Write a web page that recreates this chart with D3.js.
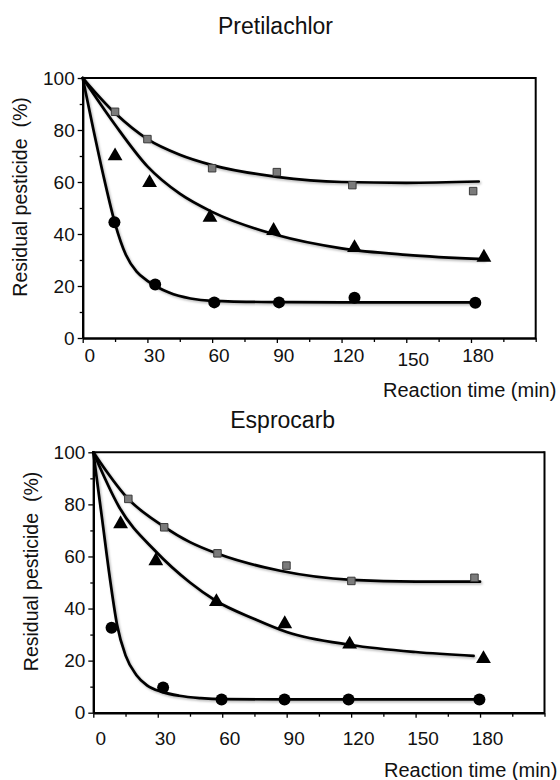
<!DOCTYPE html>
<html>
<head>
<meta charset="utf-8">
<script src="https://cdn.jsdelivr.net/npm/d3@7"></script>
<style>
   body { margin: 0; background: #fff; }
   svg text { font-family: "Liberation Sans", Arial, Helvetica, sans-serif; fill: #111; }
</style>
</head>
<body>
<div id="chart"></div>
<script>
// Tick values shared by both panels
var xTicks = [0, 30, 60, 90, 120, 150, 180];
var xMinorTicks = [15, 45, 75, 105, 135, 165, 195, 210];
var yTicks = [0, 20, 40, 60, 80, 100];
var yMinorTicks = [10, 30, 50, 70, 90];

// Pretilachlor - measured points
var preSquareT = [15, 30, 60, 90, 125, 181];
var preSquareY = [87, 76.5, 65.3, 63.8, 58.8, 56.5];
var preTriT = [15, 31, 59, 88.5, 126, 186];
var preTriY = [70, 59.7, 46.4, 41.3, 34.7, 31];
var preCircT = [14.7, 33.6, 61, 91, 126, 182];
var preCircY = [44.5, 20.6, 13.7, 13.7, 15.5, 13.6];

// Pretilachlor - fitted curves
var preSquareFitT = [0, 15, 30, 45, 60, 90, 120, 150, 183.6];
var preSquareFitY = [100, 86.5, 76.5, 70.5, 66.5, 62, 60, 59.7, 60.2];
var preTriFitT = [0, 15, 30, 45, 60, 90, 120, 150, 186];
var preTriFitY = [100, 82, 66, 55.5, 48.5, 39.6, 34.5, 32, 30.3];
var preCircFitT = [0, 5, 10, 15, 20, 25, 30, 40, 50, 60, 90, 120, 182];
var preCircFitY = [100, 80, 61, 44, 32, 25.5, 22, 17.5, 15.2, 14.3, 13.8, 13.7, 13.7];

// Esprocarb - measured points
var espSquareT = [16.3, 33, 57.8, 89.9, 120.1, 177.4];
var espSquareY = [82.1, 71.2, 61.2, 56.5, 50.6, 51.8];
var espTriT = [12.7, 29.1, 57.3, 89.1, 119.3, 181.6];
var espTriY = [72.5, 58.3, 42.6, 34.1, 26.3, 20.7];
var espCircT = [8.5, 32.5, 59.7, 89, 118.8, 179.7];
var espCircY = [32.6, 9.7, 5.1, 5.1, 5.1, 5.1];

// Esprocarb - fitted curves
var espSquareFitT = [0, 16, 33, 45, 58, 87, 120, 150, 180];
var espSquareFitY = [100, 82.3, 71.4, 65.5, 61, 54.5, 51, 50.3, 50.3];
var espTriFitT = [0, 12, 29, 45, 57, 75, 90, 120, 150, 177];
var espTriFitY = [100, 79, 62, 50, 43, 36, 31, 26, 23.3, 21.8];
var espCircFitT = [0, 4, 8, 11, 15, 20, 25, 32, 40, 50, 60, 90, 180];
var espCircFitY = [100, 75, 50, 34, 22, 14.5, 10.5, 8, 6.5, 5.6, 5.2, 5.1, 5.1];

function zip(t, y) {
   return t.map(function (d, i) { return { t: d, v: y[i] }; });
}

var svg = d3.select("#chart")
   .append("svg")
   .attr("width", 560)
   .attr("height", 780);

// soft shadow like the original figure
var filter = svg.append("defs").append("filter")
   .attr("id", "soft")
   .attr("x", "-10%").attr("y", "-10%")
   .attr("width", "130%").attr("height", "130%");
filter.append("feDropShadow")
   .attr("dx", 1.2).attr("dy", 1.5)
   .attr("stdDeviation", 1.2)
   .attr("flood-color", "#000")
   .attr("flood-opacity", 0.3);

function drawPanel(cfg) {
   var xScale = d3.scaleLinear().domain([0, 210]).range([cfg.left, cfg.right]);
   var yScale = d3.scaleLinear().domain([0, 100]).range([cfg.bottom, cfg.top]);

   var g = svg.append("g");

   // Title
   g.append("text")
      .attr("x", cfg.titleX)
      .attr("y", cfg.titleY)
      .attr("text-anchor", "middle")
      .style("font-size", "23px")
      .text(cfg.title);

   // Frame (top + right)
   g.append("line")
      .attr("x1", cfg.left).attr("x2", cfg.right)
      .attr("y1", cfg.top).attr("y2", cfg.top)
      .attr("stroke", "#000")
      .attr("stroke-width", 2);
   g.append("line")
      .attr("x1", cfg.right).attr("x2", cfg.right)
      .attr("y1", cfg.top - 1).attr("y2", cfg.bottom)
      .attr("stroke", "#000")
      .attr("stroke-width", 2);

   // Y axis
   var yAxis = g.append("g")
      .attr("transform", "translate(" + cfg.left + ",0)")
      .call(d3.axisLeft(yScale).tickValues(yTicks).tickSize(5).tickSizeOuter(0).tickPadding(3));
   g.append("g")
      .attr("transform", "translate(" + cfg.left + ",0)")
      .call(d3.axisLeft(yScale).tickValues(yMinorTicks).tickSize(3).tickSizeOuter(0).tickFormat(""))
      .select(".domain").remove();

   // X axis
   g.append("g")
      .attr("transform", "translate(0," + cfg.bottom + ")")
      .call(d3.axisBottom(xScale).tickValues(xTicks).tickSize(5).tickSizeOuter(0).tickFormat(""));
   g.append("g")
      .attr("transform", "translate(0," + cfg.bottom + ")")
      .call(d3.axisBottom(xScale).tickValues(xMinorTicks).tickSize(4).tickSizeOuter(0).tickFormat(""))
      .select(".domain").remove();

   g.selectAll(".domain").attr("stroke", "#000").attr("stroke-width", 2.4);
   g.selectAll(".tick line").attr("stroke", "#000").attr("stroke-width", 1.3);

   yAxis.selectAll("text")
      .attr("fill", "#111")
      .style("font-size", "19px")
      .style("font-family", "Liberation Sans, Arial, sans-serif");

   // X tick labels, placed a little right of the ticks as in the figure
   g.selectAll(".xlab")
      .data(xTicks)
      .enter().append("text")
      .attr("class", "xlab")
      .attr("x", function (d) { return xScale(d) + cfg.xLabShift; })
      .attr("y", function (d) { return cfg.bottom + cfg.xLabDy + (d === cfg.lowTick ? 4 : 0); })
      .attr("text-anchor", "middle")
      .style("font-size", "19px")
      .text(function (d) { return d; });

   // Axis titles
   g.append("text")
      .attr("transform", "translate(" + (cfg.left - 55.5) + "," + ((cfg.top + cfg.bottom) / 2 - 11) + ") rotate(-90)")
      .attr("text-anchor", "middle")
      .style("font-size", "19.5px")
      .text("Residual pesticide\u00a0\u00a0(%)");

   g.append("text")
      .attr("x", cfg.xTitleX)
      .attr("y", cfg.xTitleY)
      .style("font-size", "20px")
      .text("Reaction time (min)");

   // Fitted curves
   var line = d3.line()
      .x(function (d) { return xScale(d.t); })
      .y(function (d) { return yScale(d.v); })
      .curve(d3.curveMonotoneX);

   cfg.fits.forEach(function (fit) {
      g.append("path")
         .datum(fit)
         .attr("fill", "none")
         .attr("stroke", "#000")
         .attr("stroke-width", 2.7)
         .attr("stroke-linecap", "round")
         .attr("filter", "url(#soft)")
         .attr("d", line);
   });

   // Markers
   g.selectAll(".sq")
      .data(cfg.squares)
      .enter().append("path")
      .attr("class", "sq")
      .attr("transform", function (d) { return "translate(" + xScale(d.t) + "," + yScale(d.v) + ")"; })
      .attr("d", d3.symbol().type(d3.symbolSquare).size(56))
      .attr("fill", "#7b7b7b")
      .attr("stroke", "#3a3a3a")
      .attr("stroke-width", 1);

   g.selectAll(".tri")
      .data(cfg.triangles)
      .enter().append("path")
      .attr("class", "tri")
      .attr("transform", function (d) { return "translate(" + xScale(d.t) + "," + yScale(d.v) + ")"; })
      .attr("d", d3.symbol().type(d3.symbolTriangle).size(95))
      .attr("fill", "#000");

   g.selectAll(".circ")
      .data(cfg.circles)
      .enter().append("circle")
      .attr("class", "circ")
      .attr("cx", function (d) { return xScale(d.t); })
      .attr("cy", function (d) { return yScale(d.v); })
      .attr("r", 6)
      .attr("fill", "#000");
}

drawPanel({
   title: "Pretilachlor",
   titleX: 275.5, titleY: 34,
   left: 82.7, right: 535.7, top: 78, bottom: 338,
   xLabShift: 7, xLabDy: 24, lowTick: 150,
   xTitleX: 383, xTitleY: 397,
   fits: [zip(preSquareFitT, preSquareFitY), zip(preTriFitT, preTriFitY), zip(preCircFitT, preCircFitY)],
   squares: zip(preSquareT, preSquareY),
   triangles: zip(preTriT, preTriY),
   circles: zip(preCircT, preCircY)
});

drawPanel({
   title: "Esprocarb",
   titleX: 282.7, titleY: 428.3,
   left: 93.3, right: 544.5, top: 452.3, bottom: 712.7,
   xLabShift: 7.5, xLabDy: 32, lowTick: null,
   xTitleX: 384, xTitleY: 777,
   fits: [zip(espSquareFitT, espSquareFitY), zip(espTriFitT, espTriFitY), zip(espCircFitT, espCircFitY)],
   squares: zip(espSquareT, espSquareY),
   triangles: zip(espTriT, espTriY),
   circles: zip(espCircT, espCircY)
});
</script>
</body>
</html>
